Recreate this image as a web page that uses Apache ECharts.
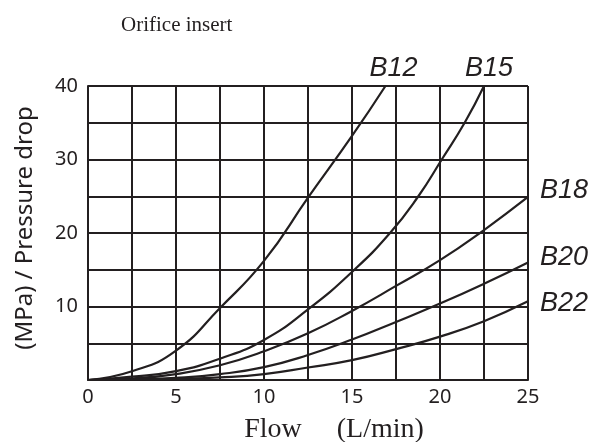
<!DOCTYPE html>
<html>
<head>
<meta charset="utf-8">
<script src="https://cdn.jsdelivr.net/npm/echarts@6/dist/echarts.min.js"></script>
<style>
html,body{margin:0;padding:0;background:#fff;}
#chart{width:609px;height:442px;}
</style>
</head>
<body>
<div id="chart"></div>
<script>
const title = 'Orifice insert';
const xName = 'Flow\u3000 (L/min)';
const yName = '(MPa) / Pressure drop';
const seriesNames = ['B12', 'B15', 'B18', 'B20', 'B22'];
const B12 = [[0,0],[2.5,1.2],[5,4.0],[7.5,9.8],[10,16.2],[12.5,24.8],[15,33.2],[16.9,40]];
const B15 = [[0,0],[2.5,0.45],[5,1.2],[7.5,2.9],[10,5.45],[12.5,9.6],[15,14.7],[17.16,20],[18.77,25],[20.1,30],[21.4,35],[22.5,40]];
const B18 = [[0,0],[2.5,0.2],[5,0.8],[7.5,2.0],[10,3.9],[12.5,6.35],[15,9.4],[17.5,12.8],[20,16.3],[22.5,20.4],[25,24.9]];
const B20 = [[0,0],[2.5,0.1],[5,0.3],[7.5,0.8],[10,1.75],[12.5,3.4],[15,5.5],[17.5,7.9],[20,10.4],[22.5,13.1],[25,16.0]];
const B22 = [[0,0],[2.5,0.05],[5,0.15],[7.5,0.35],[10,0.8],[12.5,1.7],[15,2.7],[17.5,4.2],[20,5.9],[22.5,8.0],[25,10.7]];
const xTicks = [0,5,10,15,20,25];
const yTicks = [10,20,30,40];

const dataSets = [B12, B15, B18, B20, B22];
const ink = '#231f20';
const labelCfg = [
  {align:'center', verticalAlign:'bottom', offset:[8,-4]},
  {align:'center', verticalAlign:'bottom', offset:[5,-4]},
  {align:'left', verticalAlign:'middle', offset:[12,-7]},
  {align:'left', verticalAlign:'middle', offset:[12,-5]},
  {align:'left', verticalAlign:'middle', offset:[12,2]}
];

const chart = echarts.init(document.getElementById('chart'), null, {renderer:'canvas'});
chart.setOption({
  animation:false,
  backgroundColor:'#fff',
  title:{text:title, left:116, top:10, textStyle:{fontFamily:'Liberation Serif', fontWeight:'normal', fontSize:21, color:ink}},
  grid:{left:88, right:81, top:86, bottom:62, containLabel:false, outerBoundsMode:'none'},
  xAxis:{type:'value', min:0, max:25, interval:2.5,
    name:xName, nameLocation:'middle', nameGap:36,
    nameTextStyle:{fontFamily:'Liberation Serif', fontSize:28, color:ink, padding:[0,0,0,52]},
    axisLine:{show:true, lineStyle:{color:ink, width:2}},
    axisTick:{show:false},
    axisLabel:{margin:7, fontFamily:'Noto Sans', fontSize:20, color:ink,
      formatter:v => xTicks.indexOf(v) >= 0 ? String(v) : ''},
    splitLine:{show:true, lineStyle:{color:ink, width:2}}},
  yAxis:{type:'value', min:0, max:40, interval:5,
    name:yName, nameLocation:'middle', nameGap:51, nameRotate:90,
    nameTextStyle:{fontFamily:'Noto Sans', fontSize:24, color:ink, padding:[0,0,0,10]},
    axisLine:{show:true, lineStyle:{color:ink, width:2}},
    axisTick:{show:false},
    axisLabel:{margin:10, fontFamily:'Noto Sans', fontSize:20, color:ink,
      formatter:v => yTicks.indexOf(v) >= 0 ? String(v) : ''},
    splitLine:{show:true, lineStyle:{color:ink, width:2}}},
  series: seriesNames.map((n,i) => ({
    name:n, type:'line', data:dataSets[i], showSymbol:false, symbol:'none',
    smooth:0.5,
    lineStyle:{color:ink, width:2.2},
    endLabel:{show:true, formatter:n, fontFamily:'Liberation Sans', fontStyle:'italic', fontSize:27, color:ink,
      distance:0, align:labelCfg[i].align, verticalAlign:labelCfg[i].verticalAlign, offset:labelCfg[i].offset}
  }))
});
</script>
</body>
</html>
